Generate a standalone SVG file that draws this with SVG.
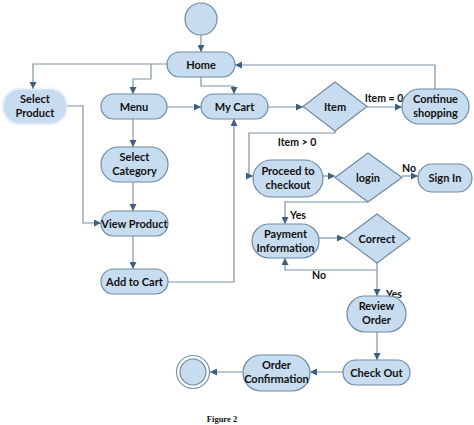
<svg xmlns="http://www.w3.org/2000/svg" width="474" height="425" viewBox="0 0 474 425">
<defs>
<marker id="arr" viewBox="0 0 8 8" refX="8" refY="4" markerWidth="7" markerHeight="7" markerUnits="userSpaceOnUse" orient="auto">
<path d="M0,0 L8,4 L0,8 z" fill="#3e5f80"/>
</marker>
<filter id="glow" x="-20%" y="-30%" width="140%" height="160%">
<feGaussianBlur stdDeviation="1.5"/>
</filter>
</defs>
<style>
.n{fill:#c8dcf0;stroke:#6f89a5;stroke-width:1.2}
.t{font-family:Lato,"Liberation Sans",sans-serif;font-weight:bold;font-size:11px;fill:#111111;text-anchor:middle}
.l{font-family:Lato,"Liberation Sans",sans-serif;font-weight:bold;font-size:10.5px;fill:#111111;text-anchor:middle}
.c{fill:none;stroke:#7c92a8;stroke-width:1.2}
.c .a{marker-end:url(#arr)}
</style>
<rect width="474" height="425" fill="#ffffff"/>
<g id="connectors" class="c">
<path class="a" d="M201,35 V52"/>
<path class="a" d="M167,64 H33 V89"/>
<path class="a" d="M151,64 V79 H133 V94"/>
<path class="a" d="M201,77 V86 H234 V94"/>
<path class="a" d="M435,89 V65 H235"/>
<path class="a" d="M167,107 H201"/>
<path class="a" d="M268,107 H303"/>
<path class="a" d="M367,107 H402"/>
<path class="a" d="M335,131 V133 H249 V176 H253"/>
<path class="a" d="M67,106 H83 V223 H101"/>
<path class="a" d="M133,119 V147"/>
<path class="a" d="M133,182 V211"/>
<path class="a" d="M133,236 V269"/>
<path class="a" d="M167,282 H234 V119"/>
<path class="a" d="M323,176 H335"/>
<path class="a" d="M402,176 H418"/>
<path class="a" d="M368,202 H285 V224"/>
<path class="a" d="M319,238 H344"/>
<path class="a" d="M377,263 V270 H285 V258"/>
<path class="a" d="M377,270 V296"/>
<path class="a" d="M377,332 V360"/>
<path class="a" d="M343,372 H310"/>
<path class="a" d="M243,372 H210"/>
</g>
<g id="labels">
<text class="l" x="384" y="102">Item = 0</text>
<text class="l" x="297" y="146">Item &gt; 0</text>
<text class="l" x="409" y="172">No</text>
<text class="l" x="298" y="219">Yes</text>
<text class="l" x="319" y="279">No</text>
<text class="l" x="394" y="298">Yes</text>
</g>
<g id="start"><circle class="n" cx="201" cy="19" r="16"/></g>
<g id="home"><rect class="n" x="167" y="52" width="68" height="25" rx="12.5"/><text class="t" x="201" y="68.5">Home</text></g>
<g id="select-product"><rect x="3" y="89" width="64" height="35" rx="17" fill="#c8dcf0" filter="url(#glow)"/><rect x="4" y="90" width="62" height="33" rx="16" fill="#c8dcf0"/><text class="t" x="35" y="103">Select</text><text class="t" x="35" y="117">Product</text></g>
<g id="menu"><rect class="n" x="101" y="94" width="66" height="25" rx="12.5"/><text class="t" x="134" y="110.5">Menu</text></g>
<g id="my-cart"><rect class="n" x="201" y="94" width="67" height="25" rx="12.5"/><text class="t" x="234.5" y="110.5">My Cart</text></g>
<g id="item"><polygon class="n" points="335,82 367,106.5 335,131 303,106.5"/><text class="t" x="335" y="110.5">Item</text></g>
<g id="continue-shopping"><rect class="n" x="402" y="89" width="67" height="35" rx="17.5"/><text class="t" x="435.5" y="103">Continue</text><text class="t" x="435.5" y="117">shopping</text></g>
<g id="select-category"><rect class="n" x="101" y="147" width="67" height="35" rx="17.5"/><text class="t" x="134.5" y="161">Select</text><text class="t" x="134.5" y="175">Category</text></g>
<g id="view-product"><rect class="n" x="101" y="211" width="67" height="25" rx="12.5"/><text class="t" x="134.5" y="227.5">View Product</text></g>
<g id="add-to-cart"><rect class="n" x="101" y="269" width="67" height="25" rx="12.5"/><text class="t" x="134.5" y="285.5">Add to Cart</text></g>
<g id="proceed-to-checkout"><rect class="n" x="253" y="160" width="70" height="37" rx="18.5"/><text class="t" x="288" y="175">Proceed to</text><text class="t" x="288" y="189">checkout</text></g>
<g id="login"><polygon class="n" points="368,153 402,177.5 368,202 335,177.5"/><text class="t" x="368" y="181.5">login</text></g>
<g id="sign-in"><rect class="n" x="418" y="164" width="54" height="28" rx="14"/><text class="t" x="445" y="182">Sign In</text></g>
<g id="payment-information"><rect class="n" x="252" y="224" width="67" height="34" rx="17"/><text class="t" x="285.5" y="238">Payment</text><text class="t" x="285.5" y="252">Information</text></g>
<g id="correct"><polygon class="n" points="377,214 410,238.5 377,263 344,238.5"/><text class="t" x="377" y="242.5">Correct</text></g>
<g id="review-order"><rect class="n" x="347" y="296" width="59" height="36" rx="18"/><text class="t" x="376.5" y="310">Review</text><text class="t" x="376.5" y="324">Order</text></g>
<g id="check-out"><rect class="n" x="343" y="360" width="67" height="25" rx="12.5"/><text class="t" x="376.5" y="376.5">Check Out</text></g>
<g id="order-confirmation"><rect class="n" x="243" y="355" width="67" height="36" rx="18"/><text class="t" x="276.5" y="369">Order</text><text class="t" x="276.5" y="383">Confirmation</text></g>
<g id="end"><circle cx="193" cy="372" r="16.5" fill="#ffffff" stroke="#7a93ad" stroke-width="1.2"/><circle class="n" cx="193" cy="372" r="13"/></g>
<text x="222" y="422" font-family="Liberation Serif,serif" font-weight="bold" font-size="8.5px" fill="#111" text-anchor="middle">Figure 2</text>
</svg>
